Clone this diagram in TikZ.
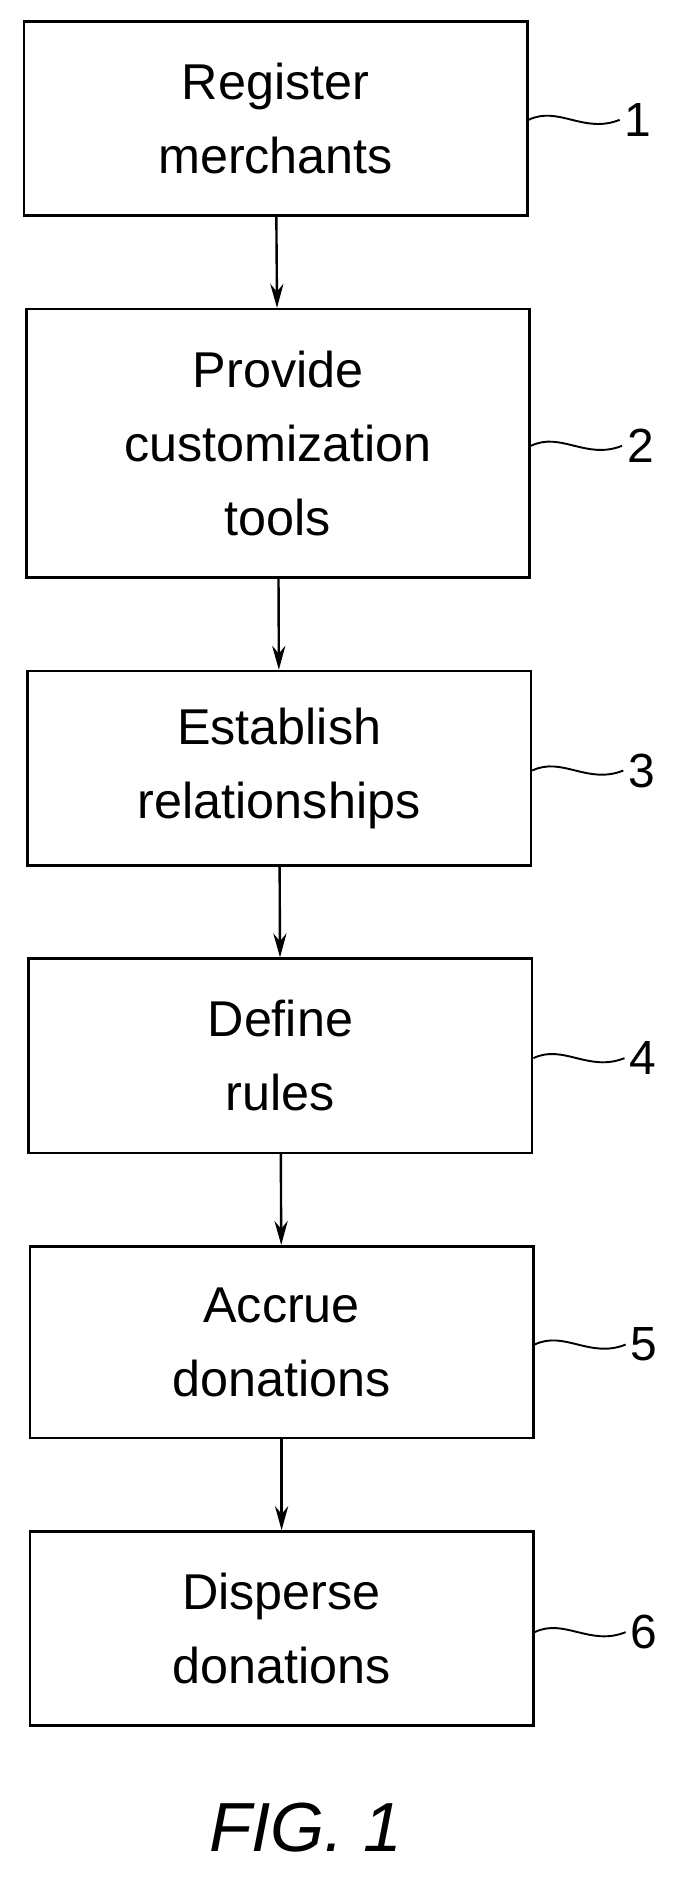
\documentclass[tikz,border=0pt]{standalone}
\usepackage{fontspec}
\setmainfont{Liberation Sans}
\usetikzlibrary{arrows.meta}
\tikzset{
  stage/.style={draw, line width=2.2pt, align=center, font=\fontsize{42}{62}\selectfont, minimum width=420pt, inner sep=0pt},
  flow/.style={-{Stealth[length=20pt,width=11pt]}, line width=2pt},
  ref/.style={font=\fontsize{40}{40}\selectfont, anchor=west, inner sep=2pt},
  wave/.style={line width=1.6pt}
}
\begin{document}
\begin{tikzpicture}[x=1pt,y=1pt]
  \useasboundingbox (0,0) rectangle (570,-1573);
  \node[stage, minimum height=162pt] (register) at (230,-99) {Register\\merchants};
  \node[stage, minimum height=224pt] (provide) at (232,-370) {Provide\\customization\\tools};
  \node[stage, minimum height=162pt] (establish) at (233,-641) {Establish\\relationships};
  \node[stage, minimum height=162pt] (define) at (234,-881) {Define\\rules};
  \node[stage, minimum height=160pt] (accrue) at (235,-1120) {Accrue\\donations};
  \node[stage, minimum height=162pt] (disperse) at (235,-1359) {Disperse\\donations};
  \node[font=\fontsize{58}{60}\selectfont\itshape] (fig) at (255,-1525) {FIG. 1};
  % arrows
  \draw[flow] (register) -- (provide);
  \draw[flow] (provide) -- (establish);
  \draw[flow] (establish) -- (define);
  \draw[flow] (define) -- (accrue);
  \draw[flow] (accrue) -- (disperse);
  % reference numerals
  \foreach \n/\b/\y in {1/register/-100, 2/provide/-372, 3/establish/-643, 4/define/-883, 5/accrue/-1122, 6/disperse/-1362}{
    \coordinate (w\n) at (\b.east |- 0,\y);
    \node[ref] (r\n) at ([xshift=78pt]w\n) {\n};
    \draw[wave] (w\n) .. controls ++(25,12) and ++(-30,-12) .. ([xshift=-2pt]r\n.west);
  }
\end{tikzpicture}
\end{document}
